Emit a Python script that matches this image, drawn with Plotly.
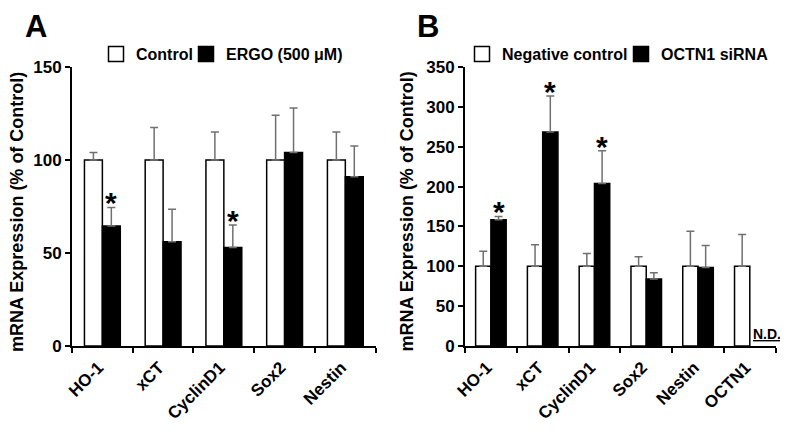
import plotly.graph_objects as go

# ---- Data ----
cats_a = ["HO-1", "xCT", "CyclinD1", "Sox2", "Nestin"]
ctrl_a = [100, 100, 100, 100, 100]
ctrl_a_err = [4, 17.5, 15, 24, 15]
ergo_a = [64.5, 56, 53, 104, 91]
ergo_a_err = [10, 17.5, 12, 24, 16.5]
sig_a = [True, False, True, False, False]

cats_b = ["HO-1", "xCT", "CyclinD1", "Sox2", "Nestin", "OCTN1"]
neg_b = [100, 100, 100, 100, 100, 100]
neg_b_err = [19, 27, 16, 12, 44, 40]
sirna_b = [158.5, 268.5, 204, 84, 98.5, None]
sirna_b_err = [4, 45, 41, 8, 27.5, None]
sig_b = [True, True, True, False, False, False]

FONT = "Arial, 'Liberation Sans', sans-serif"
W, H = 788, 434
PAGE = 8  # default page body margin in the browser


def fx(px):
    return (px - PAGE) / W


def fy(py):
    return 1 - (py - PAGE) / H


BARGAP = 0.41
ydom = [fy(346), fy(67)]

fig = go.Figure()


def add_pair(cats, v1, e1, v2, e2, xa, ya, names, legs):
    err_style = dict(type="data", symmetric=False, color="#707070", thickness=1.5, width=4)
    fig.add_trace(go.Bar(
        x=cats, y=v1, name=names[0], xaxis=xa, yaxis=ya, showlegend=False,
        marker=dict(color="white", line=dict(color="black", width=1.5)),
        error_y=dict(array=e1, arrayminus=[0] * len(e1), **err_style),
        offsetgroup="1"))
    e2c = [e if e is not None else 0 for e in e2]
    fig.add_trace(go.Bar(
        x=cats, y=v2, name=names[1], xaxis=xa, yaxis=ya, showlegend=False,
        marker=dict(color="black", line=dict(color="black", width=1.5)),
        error_y=dict(array=e2c, arrayminus=[0] * len(e2c), **err_style),
        offsetgroup="2"))
    # legend entries (larger square keys)
    for nm, col, lg in zip(names, ["white", "black"], legs):
        fig.add_trace(go.Scatter(
            x=[None], y=[None], name=nm, mode="markers", xaxis=xa, yaxis=ya, legend=lg,
            marker=dict(symbol="square", size=15, color=col,
                        line=dict(color="black", width=1.5))))


add_pair(cats_a, ctrl_a, ctrl_a_err, ergo_a, ergo_a_err, "x", "y",
         ["Control", "ERGO (500 μM)"], ["legend", "legend2"])
add_pair(cats_b, neg_b, neg_b_err, sirna_b, sirna_b_err, "x2", "y2",
         ["Negative control", "OCTN1 siRNA"], ["legend3", "legend4"])

ax_common = dict(
    showline=True, linecolor="black", linewidth=2, ticks="outside",
    ticklen=5, tickwidth=2, tickcolor="black", showgrid=False, zeroline=False,
    automargin=False,
    tickfont=dict(family=FONT, size=17, color="black", weight="bold"),
)
x_common = dict(type="category", tickson="boundaries", tickangle=-45,
                ticklabelshift=-4, ticklabelstandoff=3, **ax_common)

leg_font = dict(family=FONT, size=16, color="black", weight="bold")


def leg(xpix):
    return dict(orientation="h", x=fx(xpix), y=fy(37), xanchor="left", yanchor="top",
                font=leg_font, itemsizing="trace", bgcolor="rgba(0,0,0,0)")


fig.update_layout(
    width=W, height=H, margin=dict(l=0, r=0, t=0, b=0, autoexpand=False),
    paper_bgcolor="white", plot_bgcolor="white",
    barmode="group", bargap=BARGAP, bargroupgap=0,
    xaxis=dict(domain=[fx(72), fx(375.7)], anchor="y",
               range=[-0.5, len(cats_a) - 0.5], **x_common),
    yaxis=dict(domain=ydom, anchor="x", range=[0, 150], dtick=50, **ax_common),
    xaxis2=dict(domain=[fx(465), fx(775.7)], anchor="y2",
                range=[-0.5, len(cats_b) - 0.5], **x_common),
    yaxis2=dict(domain=ydom, anchor="x2", range=[0, 350], dtick=50, **ax_common),
    legend=leg(96), legend2=leg(186), legend3=leg(462), legend4=leg(621),
    showlegend=True,
)

off = (1 - BARGAP) / 4
ann = []
star_font = dict(family=FONT, size=30, color="black", weight="bold")
for i, s in enumerate(sig_a):
    if s:
        ann.append(dict(x=i + off, y=ergo_a[i] + ergo_a_err[i], xref="x", yref="y",
                        text="*", showarrow=False, yanchor="bottom", yshift=-14,
                        font=star_font))
for i, s in enumerate(sig_b):
    if s:
        ann.append(dict(x=i + off, y=sirna_b[i] + sirna_b_err[i], xref="x2", yref="y2",
                        text="*", showarrow=False, yanchor="bottom", yshift=-14,
                        font=star_font))
# N.D. label for OCTN1 siRNA (not detected)
ann.append(dict(x=fx(751), y=0, xref="paper", yref="y2", text="N.D.",
                showarrow=False, xanchor="left", yanchor="bottom", yshift=2,
                font=dict(family=FONT, size=14, color="black", weight="bold",
                          lineposition="under")))
# axis titles
ytitle = "mRNA Expression (% of Control)"
for xp in (fx(17), fx(406.5)):
    ann.append(dict(x=xp, y=fy(212), xref="paper", yref="paper", text=ytitle, textangle=-90,
                    showarrow=False, xanchor="center", yanchor="middle",
                    font=dict(family=FONT, size=18, color="black", weight="bold")))
# panel letters
for xp, lab in ((fx(23), "A"), (fx(415), "B")):
    ann.append(dict(x=xp, y=fy(27), xref="paper", yref="paper", text=lab,
                    showarrow=False, xanchor="left", yanchor="middle",
                    font=dict(family=FONT, size=31, color="black", weight="bold")))
fig.update_layout(annotations=ann)

fig.write_html("out.html")
